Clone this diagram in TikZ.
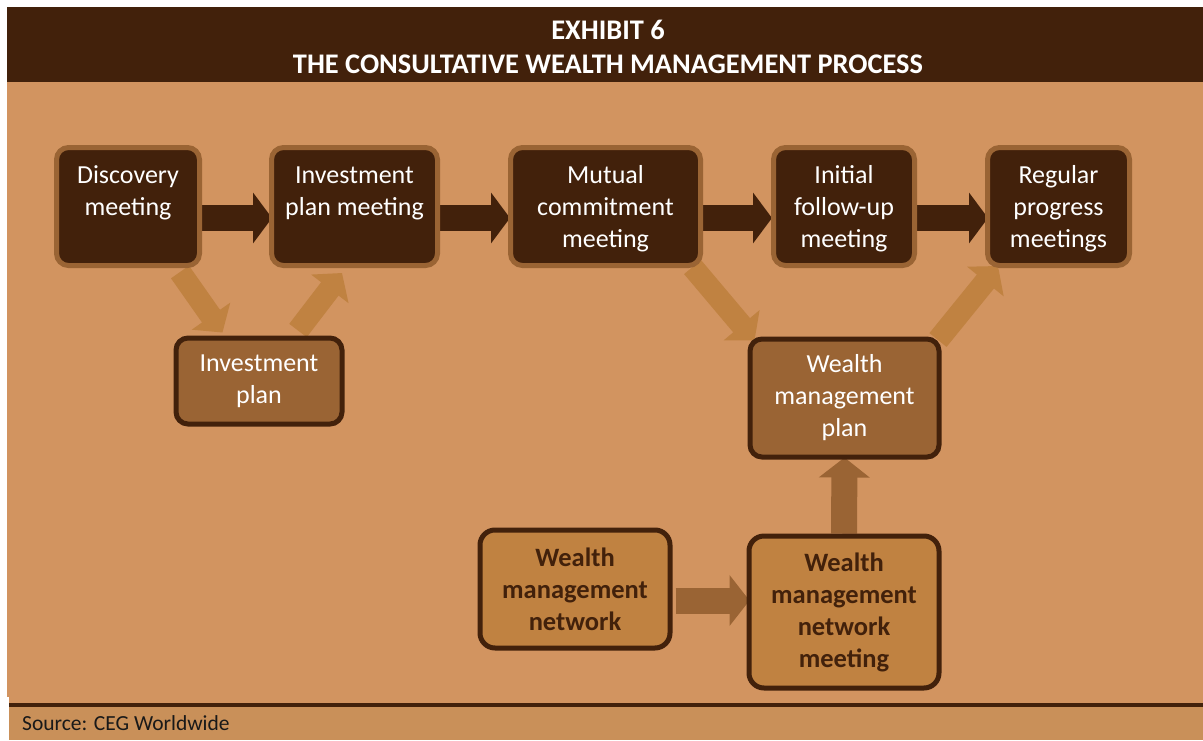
\documentclass[tikz,border=0pt]{standalone}
\usepackage{fontspec}
\setmainfont{Carlito}
\usetikzlibrary{calc,arrows.meta}
\definecolor{darkbrown}{HTML}{42210B}
\definecolor{midbrown}{HTML}{9A6434}
\definecolor{lightbrown}{HTML}{C08241}
\definecolor{pagetan}{HTML}{D29460}
\definecolor{foottan}{HTML}{C99059}
\pgfdeclarelayer{back}
\pgfdeclarelayer{arrows}
\pgfsetlayers{back,arrows,main}
\tikzset{
	boxfont/.style={font=\fontsize{26}{32}\selectfont},
	meeting/.style={boxfont, draw=midbrown, fill=darkbrown, text=white, line width=5pt, rounded corners=12pt, align=center, inner xsep=0pt, inner ysep=0pt, text height=67.5pt, text depth=50.5pt},
	threelines/.style={text height=99.5pt, text depth=18.5pt},
	plan/.style={boxfont, draw=darkbrown, fill=midbrown, text=white, line width=5pt, rounded corners=12pt, align=center, inner sep=0pt},
	network/.style={font=\bfseries\fontsize{26.5}{32}\selectfont, draw=darkbrown, fill=lightbrown, text=darkbrown, line width=5pt, rounded corners=15pt, align=center, inner sep=0pt},
	titletext/.style={anchor=base, text=white, font=\bfseries\fontsize{28.4}{34}\selectfont},
	darkarrow/.style={darkbrown, line width=26pt, -{Triangle[width=50pt,length=19pt]}},
	lightarrow/.style={lightbrown, line width=22pt, -{Triangle[width=46pt,length=20pt]}},
	midarrow/.style={midbrown, line width=26pt, -{Triangle[width=50pt,length=20pt]}}
}

\begin{document}
\begin{tikzpicture}[x=1pt, y=-1pt]
			%%%%% START %%%%%
			\useasboundingbox (0, 0) rectangle (1203, 740);
			
			\begin{pgfonlayer}{back}
			\fill[white] (0, 0) rectangle (1203, 740);
			\fill[darkbrown] (7, 7) rectangle (1203, 82);
			\fill[pagetan] (7, 82) rectangle (1203, 697);
			\fill[pagetan] (9, 697) rectangle (1203, 702.5);
			\fill[darkbrown] (9, 702.5) rectangle (1203, 706.5);
			\fill[foottan] (9, 706.5) rectangle (1203, 740);
			\end{pgfonlayer}
			
			\node[titletext] (title) at (608, 39) {EXHIBIT 6};
			\node[titletext] (subtitle) at (608, 73) {THE CONSULTATIVE WEALTH MANAGEMENT PROCESS};
			
			\node[meeting, minimum width=143pt] (disc) at (128, 206.5) {Discovery\\meeting};
			\node[meeting, minimum width=166pt] (ipm) at (354.5, 206.5) {Investment\\plan meeting};
			\node[meeting, threelines, minimum width=190pt] (mut) at (605.5, 206.5) {Mutual\\commitment\\meeting};
			\node[meeting, threelines, minimum width=141pt] (ini) at (844, 206.5) {Initial\\follow-up\\meeting};
			\node[meeting, threelines, minimum width=142pt] (reg) at (1058.5, 206.5) {Regular\\progress\\meetings};
			
			\node[plan, minimum width=166pt, minimum height=86pt] (invp) at (259, 381) {Investment\\plan};
			\node[plan, minimum width=189pt, minimum height=118pt] (wmp) at (844.5, 398) {Wealth\\management\\plan};
			
			\node[network, minimum width=190pt, minimum height=118pt] (wmn) at (575, 589) {Wealth\\management\\network};
			\node[network, minimum width=190pt, minimum height=152pt] (meet) at (844, 612) {Wealth\\management\\network\\meeting};
			
			\begin{pgfonlayer}{arrows}
			\draw[darkarrow] ([yshift=-11.5pt]disc.east) -- ([yshift=-11.5pt, xshift=3pt]ipm.west);
			\draw[darkarrow] ([yshift=-11.5pt]ipm.east) -- ([yshift=-11.5pt, xshift=2pt]mut.west);
			\draw[darkarrow] ([yshift=-11.5pt]mut.east) -- ([yshift=-11.5pt, xshift=1pt]ini.west);
			\draw[darkarrow] ([yshift=-11.5pt]ini.east) -- ([yshift=-11.5pt, xshift=3pt]reg.west);
			
			\draw[lightarrow] ($(disc.south east)+(-22, 4)$) -- ($(invp.north west)+(49, -3)$);
			\draw[lightarrow] ($(invp.north west)+(124.5, -5)$) -- ($(ipm.south west)+(73, 5)$);
			\draw[lightarrow] ($(mut.south east)+(-10.5, -1)$) -- ($(wmp.north west)+(7, 4)$);
			\draw[lightarrow] ($(wmp.north east)+(-3.5, 3.5)$) -- ($(reg.south west)+(13, -2)$);
			
			\draw[midarrow] ($(wmn.east)+(3, 11.5)$) -- ($(wmn.east -| meet.west)+(3, 11.5)$);
			\draw[midarrow] (meet.north) -- ($(wmp.south)+(0, -2)$);
			\end{pgfonlayer}
			
			\node[anchor=base west, inner sep=0pt, text=black!90, font=\fontsize{21.5}{24}\selectfont] (src) at (22, 730) {Source: CEG Worldwide};
			
			%%%%% END %%%%%
\end{tikzpicture}
\end{document}
